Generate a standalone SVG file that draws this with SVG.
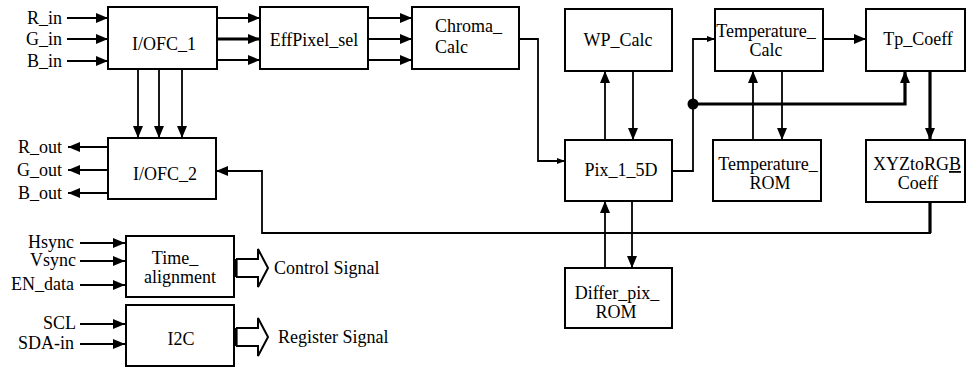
<svg xmlns="http://www.w3.org/2000/svg" width="972" height="369" viewBox="0 0 972 369" font-family="Liberation Serif, Times New Roman, serif">
<defs>
<style>
.box{fill:#fff;stroke:#000;stroke-width:2}
.t{font-family:'Liberation Serif','Times New Roman',serif;font-size:18px;fill:#000}
.m{text-anchor:middle}
.e{text-anchor:end}
.c{fill:none;stroke:#000;stroke-width:1.8}
.k{fill:none;stroke:#000;stroke-width:3.2}
.a{marker-end:url(#ah)}
.s{marker-end:url(#as)}
.blk{fill:#fff;stroke:#000;stroke-width:2;stroke-linejoin:miter}
</style>
<marker id="ah" viewBox="0 0 12 10" refX="12" refY="5" markerWidth="12" markerHeight="10" markerUnits="userSpaceOnUse" orient="auto">
<path d="M0,0 L12,5 L0,10 z" fill="#000"/>
</marker>
<marker id="as" viewBox="0 0 8 6" refX="8" refY="3" markerWidth="8" markerHeight="6" markerUnits="userSpaceOnUse" orient="auto">
<path d="M0,0 L8,3 L0,6 z" fill="#000"/>
</marker>
</defs>
<rect width="972" height="369" fill="#fff"/>

<g id="connectors">
<path class="c a" d="M67,18 H108"/>
<path class="c a" d="M67,39 H108"/>
<path class="c a" d="M67,61 H108"/>
<path class="c a" d="M217,18 H260"/>
<path class="k a" d="M217,39 H260"/>
<path class="c a" d="M217,60 H260"/>
<path class="c a" d="M368,18 H412"/>
<path class="c a" d="M368,39 H412"/>
<path class="c a" d="M368,60 H412"/>
<path class="c a" d="M138,69 V138"/>
<path class="c a" d="M159,69 V138"/>
<path class="c a" d="M182,69 V138"/>
<path class="c a" d="M108,147 H68"/>
<path class="c a" d="M108,170 H68"/>
<path class="c a" d="M108,193 H68"/>
<path class="k" d="M930,202 V233"/>
<path class="c a" d="M931,233 H262 V171 H216"/>
<path class="c s" d="M519,39 H538 V161 H565"/>
<path class="c a" d="M605,140 V71"/>
<path class="c a" d="M633,71 V140"/>
<path class="c a" d="M605,268 V201"/>
<path class="c a" d="M632,201 V268"/>
<path class="c s" d="M672,171 H693 V39 H715"/>
<path class="k a" d="M693,104 H905 V71"/>
<circle cx="693" cy="104" r="5.5" fill="#000"/>
<path class="c a" d="M823,39 H866"/>
<path class="c a" d="M753,140 V71"/>
<path class="c a" d="M782,71 V140"/>
<path class="k a" d="M930,71 V140"/>
<path class="c a" d="M80,243 H125"/>
<path class="c a" d="M80,261 H125"/>
<path class="c a" d="M80,285 H125"/>
<path class="c a" d="M80,324 H125"/>
<path class="c a" d="M80,344 H125"/>
<path class="blk" d="M236,259 H258 V249 L268,268 L258,287 V277 H236"/>
<path class="k" d="M236,259 V277"/>
<path class="blk" d="M236,328 H258 V318 L268,337 L258,356 V346 H236"/>
<path class="k" d="M236,328 V346"/>
</g>

<g id="labels">
<text class="t e" x="62" y="24">R_in</text>
<text class="t e" x="62" y="45">G_in</text>
<text class="t e" x="62" y="67">B_in</text>
<text class="t e" x="62" y="153">R_out</text>
<text class="t e" x="62" y="176">G_out</text>
<text class="t e" x="62" y="199">B_out</text>
<text class="t e" x="74" y="248">Hsync</text>
<text class="t e" x="76" y="266">Vsync</text>
<text class="t e" x="74" y="290">EN_data</text>
<text class="t e" x="76" y="329">SCL</text>
<text class="t e" x="74" y="349">SDA-in</text>
<text class="t" x="274" y="274">Control Signal</text>
<text class="t" x="278" y="343">Register Signal</text>
</g>

<g id="IOFC_1"><rect class="box" x="108" y="7" width="109" height="62"/><text class="t m" x="164" y="50">I/OFC_1</text></g>
<g id="IOFC_2"><rect class="box" x="108" y="138" width="108" height="61"/><text class="t m" x="165" y="180">I/OFC_2</text></g>
<g id="EffPixel_sel"><rect class="box" x="260" y="7" width="108" height="62"/><text class="t m" x="314" y="46">EffPixel_sel</text></g>
<g id="Chroma_Calc"><rect class="box" x="412" y="7" width="107" height="62"/><text class="t" x="435" y="32">Chroma_</text><text class="t" x="435" y="53">Calc</text></g>
<g id="WP_Calc"><rect class="box" x="565" y="9" width="107" height="62"/><text class="t m" x="618" y="46">WP_Calc</text></g>
<g id="Temperature_Calc"><rect class="box" x="715" y="9" width="108" height="62"/><text class="t m" x="766" y="37">Temperature_</text><text class="t m" x="766" y="56">Calc</text></g>
<g id="Tp_Coeff"><rect class="box" x="866" y="9" width="99" height="62"/><text class="t m" x="918" y="45">Tp_Coeff</text></g>
<g id="Pix_1_5D"><rect class="box" x="565" y="140" width="107" height="61"/><text class="t m" x="621" y="176">Pix_1_5D</text></g>
<g id="Temperature_ROM"><rect class="box" x="713" y="140" width="108" height="61"/><text class="t m" x="768" y="170">Temperature_</text><text class="t m" x="770" y="189">ROM</text></g>
<g id="XYZtoRGB_Coeff"><rect class="box" x="866" y="140" width="99" height="62"/><text class="t m" x="917" y="170">XYZtoRG<tspan text-decoration="underline">B</tspan></text><text class="t m" x="918" y="189">Coeff</text></g>
<g id="Differ_pix_ROM"><rect class="box" x="565" y="268" width="107" height="60"/><text class="t m" x="617" y="299">Differ_pix_</text><text class="t m" x="616" y="318">ROM</text></g>
<g id="Time_alignment"><rect class="box" x="126" y="236" width="108" height="61"/><text class="t m" x="175" y="264">Time_</text><text class="t m" x="180" y="283">alignment</text></g>
<g id="I2C"><rect class="box" x="126" y="305" width="108" height="61"/><text class="t m" x="181" y="345">I2C</text></g>
</svg>
